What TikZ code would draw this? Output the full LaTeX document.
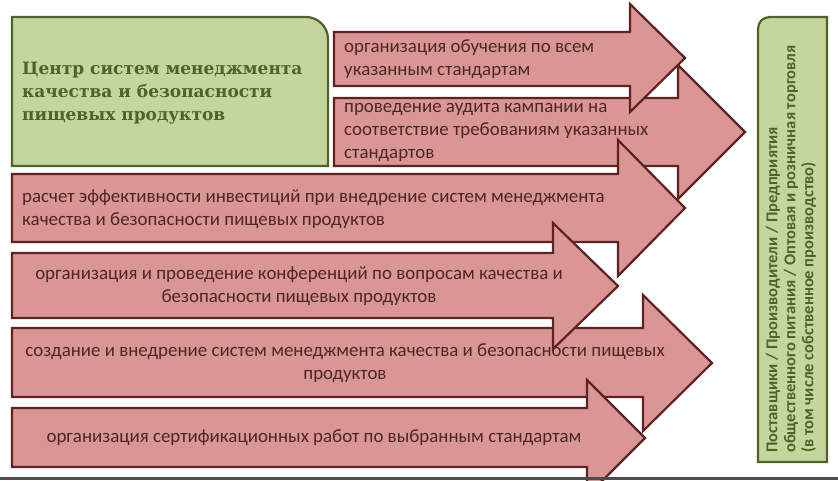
\documentclass[tikz,border=0pt]{standalone}
\usepackage{fontspec}
\setmainfont{Carlito}
\newfontfamily\titlefont{DejaVu Serif}
\definecolor{pinkfill}{HTML}{D99694}
\definecolor{pinkline}{HTML}{5E2222}
\definecolor{pinktext}{HTML}{4E2626}
\definecolor{olivefill}{HTML}{C3D69B}
\definecolor{oliveline}{HTML}{4F6228}
\tikzset{
  arrowbox/.style={fill=pinkfill,draw=pinkline,line width=2.2pt,line join=miter},
  arrowtext/.style={text=pinktext,font=\fontsize{18.9}{23}\selectfont,inner sep=0pt},
  greenbox/.style={fill=olivefill,draw=oliveline,line width=2.2pt},
}
\begin{document}
\begin{tikzpicture}[x=1pt,y=-1pt]
  \useasboundingbox (0,0) rectangle (838,480);
  % centre box
  \draw[greenbox] (12,166) -- (12,17) -- (306,17)
  .. controls (318,17) and (328,27) .. (328,39) -- (328,166) -- cycle;
  \node[anchor=west,inner sep=0pt,align=left,text=oliveline,
        font=\titlefont\bfseries\fontsize{17}{23}\selectfont]
        (centre) at (22,93) {Центр систем менеджмента\\качества и безопасности\\пищевых продуктов};
  % arrows
  \draw[arrowbox] (334,98) -- (678,98) -- (678,65) -- (745,132) -- (678,199)
  -- (678,166) -- (334,166) -- cycle;
  \node[arrowtext,anchor=west,align=left] (audit) at (344,132)
        {проведение аудита кампании на\\соответствие требованиям указанных\\стандартов};
  \draw[arrowbox] (334,32) -- (630,32) -- (630,4) -- (685,58) -- (630,112)
  -- (630,86) -- (334,86) -- cycle;
  \node[arrowtext,anchor=west,align=left] (training) at (344,59)
        {организация обучения по всем\\указанным стандартам};
  \draw[arrowbox] (12,174) -- (618,174) -- (618,140) -- (685,208) -- (618,276)
  -- (618,242) -- (12,242) -- cycle;
  \node[arrowtext,anchor=west,align=left] (invest) at (22,209)
        {расчет эффективности инвестиций при внедрение систем менеджмента\\качества и безопасности пищевых продуктов};
  \draw[arrowbox] (12,328) -- (643,328) -- (643,295) -- (712,363) -- (643,431)
  -- (643,397) -- (12,397) -- cycle;
  \node[arrowtext,align=center] (create) at (345,363)
        {создание и внедрение систем менеджмента качества и безопасности пищевых\\продуктов};
  \draw[arrowbox] (12,253) -- (553,253) -- (553,223) -- (618,286) -- (553,349)
  -- (553,318) -- (12,318) -- cycle;
  \node[arrowtext,align=center] (conf) at (299,286)
        {организация и проведение конференций по вопросам качества и\\безопасности пищевых продуктов};
  \draw[arrowbox] (12,408) -- (587,408) -- (587,380) -- (645,438) -- (587,496)
  -- (587,467) -- (12,467) -- cycle;
  \node[arrowtext] (cert) at (314,438)
        {организация сертификационных работ по выбранным стандартам};
  % right box
  \draw[greenbox] (758,462) -- (758,29) .. controls (758,22) and (763,17) .. (770,17)
  -- (827,17) -- (827,462) -- cycle;
  \node[rotate=90,anchor=west,inner sep=0pt,align=left,text=oliveline,
        font=\bfseries\fontsize{16.5}{18}\selectfont]
        (market) at (791,453) {Поставщики / Производители / Предприятия\\общественного питания / Оптовая и розничная торговля\\(в том числе собственное производство)};
  \fill[black!70] (0,477) rectangle (838,480);
\end{tikzpicture}
\end{document}
